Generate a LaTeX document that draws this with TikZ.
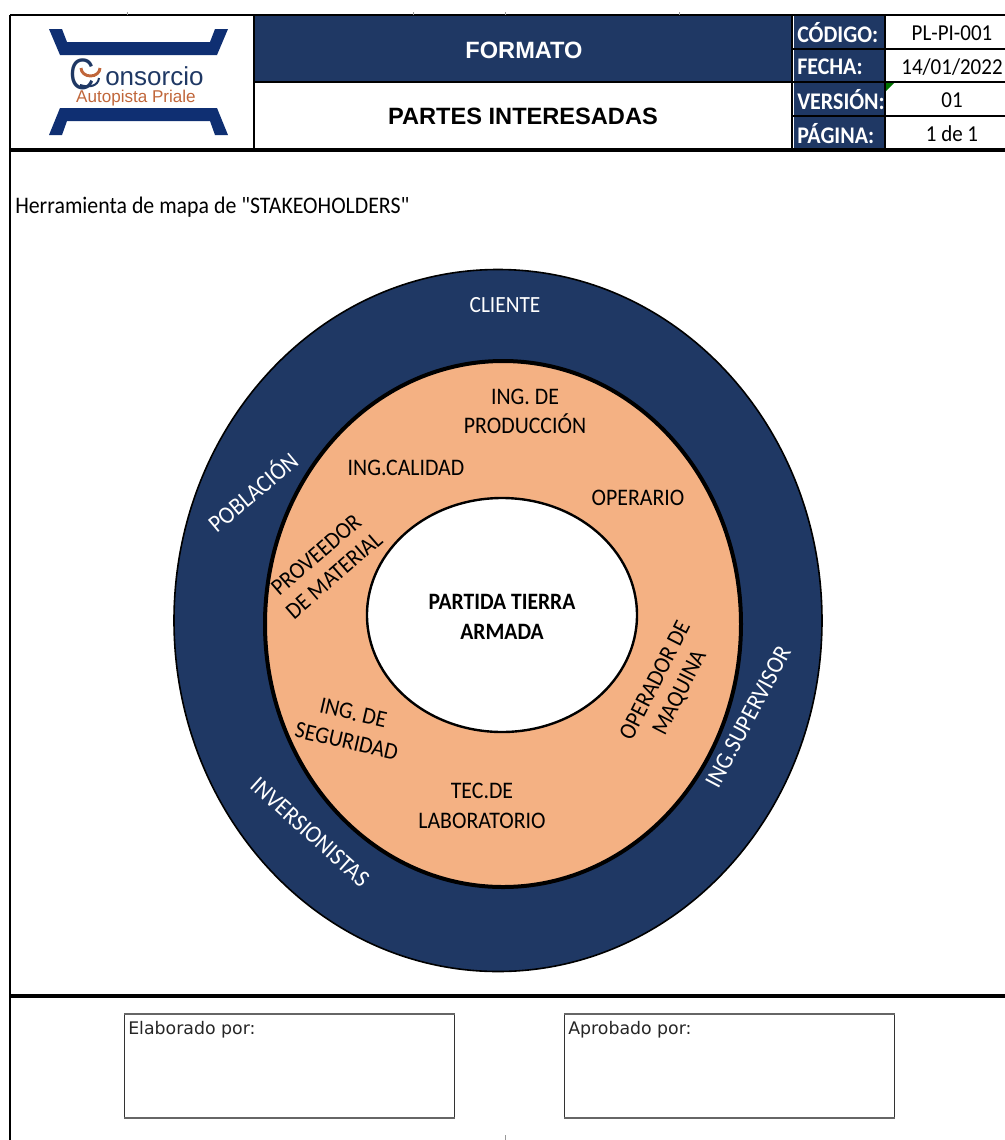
\documentclass[tikz,border=0pt]{standalone}
\usepackage{fontspec}
\setmainfont[FakeStretch=0.92]{Carlito}
\newfontfamily\plainf[FakeStretch=0.92]{Carlito}
\newfontfamily\arialf{Liberation Sans}
\newfontfamily\dejaf{DejaVu Sans}
\definecolor{navy}{HTML}{1F3864}
\definecolor{logoblue}{HTML}{0F2F72}
\definecolor{logoorange}{HTML}{C0663A}
\definecolor{peach}{HTML}{F4B183}
\definecolor{tick}{HTML}{999999}
\tikzset{
  x=0.75pt,y=-0.75pt,
  rule/.style={draw=black,line width=1.5pt},
  thin rule/.style={draw=black,line width=0.9pt},
  lab/.style={font=\fontsize{17.8}{21}\selectfont,align=center,inner sep=0pt,text=black},
  wlab/.style={font=\fontsize{18.4}{22}\selectfont,align=center,inner sep=0pt,text=white},
  head/.style={font=\arialf\bfseries\fontsize{17.7}{21}\selectfont,inner sep=0pt},
  key/.style={font=\bfseries\fontsize{17.9}{20}\selectfont,text=white,inner sep=0pt,anchor=west},
  val/.style={font=\fontsize{17.1}{19}\selectfont,inner sep=0pt},
  signbox/.style={draw=black!80,line width=1pt,fill=white,minimum width=247.5pt,minimum height=77pt,inner sep=0pt},
  signtxt/.style={font=\dejaf\fontsize{13}{15}\selectfont,inner sep=0pt,anchor=north west,text=black!85},
  logobar/.style={fill=logoblue,draw=none},
  signedge/.style={draw=black!60,line width=1.6pt},
}
\begin{document}
\begin{tikzpicture}
\useasboundingbox (0,0) rectangle (1005,1140);
% header fills
\fill[navy] (254,16) rectangle (792,82);
\fill[navy] (794,16) rectangle (885,150);
% logo
\fill[logobar] (49,29) -- (62,29) -- (67,42) -- (210,42) -- (215,29) -- (228,29) -- (217,55) -- (60,55) -- cycle;
\fill[logobar] (60,108) -- (217,108) -- (228,135) -- (215,135) -- (210,121) -- (67,121) -- (62,135) -- (49,135) -- cycle;
\node[font=\arialf\fontsize{33}{33}\selectfont,text=navy,inner sep=0pt,xscale=0.8] (logoc) at (82,74) {C};
\draw[navy,line width=1.5pt] (80,85) .. controls (90,88) and (98,86) .. (99,78);
\draw[logoorange,line width=2.2pt] (81,68) arc[start angle=180,end angle=0,x radius=9.5,y radius=8];
\node[font=\arialf\fontsize{19.5}{20}\selectfont,text=navy,inner sep=0pt,anchor=base west] (logot) at (105,85) {onsorcio};
\node[font=\arialf\fontsize{12.8}{14}\selectfont,text=logoorange,inner sep=0pt] (logos) at (136,98) {Autopista Priale};
% frame rules
\draw[rule] (10,15) -- (1005,15);
\draw[line width=2.4pt] (10,150) -- (1005,150);
\draw[line width=1.2pt] (10,15) -- (10,1140);
\draw[thin rule] (254,15) -- (254,150);
\draw[thin rule] (254,82) -- (792,82);
\draw[line width=1.6pt] (792,15) -- (792,150);
\draw[line width=1.6pt] (885,15) -- (885,150);
\draw[thin rule] (792,49) -- (1005,49);
\draw[line width=1.2pt] (792,82) -- (1005,82);
\draw[thin rule] (792,116) -- (1005,116);
\fill[green!45!black] (886,83) -- (894,83) -- (886,91) -- cycle;
\foreach \tx in {127,413,505,679} \draw[tick,line width=0.6pt] (\tx,12) -- (\tx,15);
\draw[tick,line width=0.5pt] (505,1135) -- (505,1140);
% header texts
\node[head,text=white] (formato) at (524,50) {FORMATO};
\node[head,text=black] (partes) at (523,116) {PARTES INTERESADAS};
\node[key] (k1) at (797,33) {CÓDIGO:};
\node[key] (k2) at (797,67) {FECHA:};
\node[key] (k3) at (797,100) {VERSIÓN:};
\node[key] (k4) at (797,134) {PÁGINA:};
\node[val] (v1) at (952,33) {PL-PI-001};
\node[val] (v2) at (952,67) {14/01/2022};
\node[val] (v3) at (952,100) {01};
\node[val] (v4) at (952,134) {1 de 1};
\node[lab,anchor=west,font=\plainf\fontsize{17.8}{21}\selectfont] (tool) at (15,207) {Herramienta de mapa de "STAKEOHOLDERS"};
% rings
\path[fill=navy,draw=black,line width=1.2pt] (498,620.5) ellipse [x radius=324,y radius=351];
\path[fill=peach,draw=black,line width=3pt] (503,624) ellipse [x radius=238,y radius=263];
\path[fill=white,draw=black,line width=1.8pt] (502,615) ellipse [x radius=135,y radius=117];
% ring labels
\node[font=\fontsize{17.4}{21}\selectfont,inner sep=0pt,text=white] (cliente) at (505,305) {CLIENTE};
\node[wlab,rotate=40] (poblacion) at (252,491) {POBLACIÓN};
\node[wlab,rotate=-42] (invers) at (310,832) {INVERSIONISTAS};
\node[wlab,rotate=62] (super) at (748,717) {ING.SUPERVISOR};
\node[lab,font=\fontsize{17.8}{21.8}\selectfont] (prod) at (525,411) {ING. DE\\PRODUCCIÓN};
\node[lab] (calidad) at (406,468) {ING.CALIDAD};
\node[lab] (operario) at (638,498) {OPERARIO};
\node[lab,rotate=41,font=\fontsize{17.8}{20.5}\selectfont] (prov) at (325,565) {PROVEEDOR\\DE MATERIAL};
\node[lab,rotate=63,font=\fontsize{17.8}{20.5}\selectfont] (opmaq) at (668,687) {OPERADOR DE\\MAQUINA};
\node[lab,rotate=-13,font=\fontsize{17.8}{22}\selectfont] (seg) at (350,727) {ING. DE\\SEGURIDAD};
\node[lab,font=\fontsize{17.8}{22.5}\selectfont] (lab) at (482,806) {TEC.DE\\LABORATORIO};
\node[lab,font=\bfseries\fontsize{17.6}{22}\selectfont] (partida) at (502,617) {PARTIDA TIERRA\\ARMADA};
% footer
\draw[line width=2.6pt] (10,996) -- (1005,996);
\node[signbox,anchor=north west] (elab) at (124,1014) {};
\node[signbox,anchor=north west] (apro) at (564,1014) {};
\draw[signedge] (elab.south west) -- (elab.south east);
\draw[signedge] (apro.south west) -- (apro.south east);
\draw[signedge] (elab.north west) -- (elab.north east);
\draw[signedge] (apro.north west) -- (apro.north east);
\node[signtxt] (elabt) at ([xshift=3pt,yshift=-5pt]elab.north west) {Elaborado por:};
\node[signtxt] (aprot) at ([xshift=3pt,yshift=-5pt]apro.north west) {Aprobado por:};
\end{tikzpicture}
\end{document}
